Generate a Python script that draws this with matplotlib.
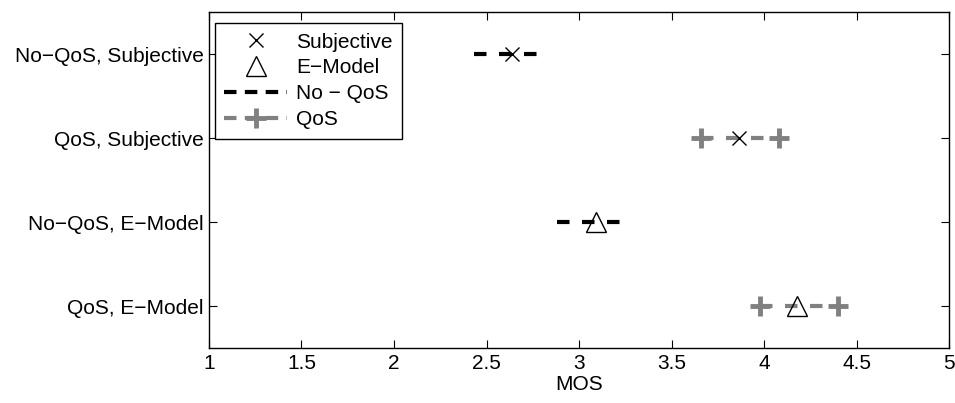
import matplotlib
matplotlib.use("Agg")
import matplotlib.pyplot as plt
from matplotlib.lines import Line2D

plt.rcParams['font.family'] = ['Liberation Sans', 'DejaVu Sans']

# rows from top to bottom
row_labels = ['No\u2212QoS, Subjective', 'QoS, Subjective', 'No\u2212QoS, E\u2212Model', 'QoS, E\u2212Model']
row_pos = [4, 3, 2, 1]
low = [2.43, 3.66, 2.88, 3.98]
high = [2.79, 4.08, 3.23, 4.40]
mean = [2.64, 3.865, 3.09, 4.18]
is_qos = [False, True, False, True]
is_subjective = [True, True, False, False]

gray = '#808080'

fig = plt.figure(figsize=(9.55, 4.03), dpi=100)
ax = fig.add_axes([0.2188, 0.1365, 0.775, 0.8335])

for i in range(len(row_labels)):
    y = row_pos[i]
    if is_qos[i]:
        ax.plot([low[i], high[i]], [y, y], color=gray, lw=3, dashes=(3, 3),
                marker='+', markersize=15, markeredgewidth=3.5)
    else:
        ax.plot([low[i], high[i]], [y, y], color='black', lw=3, dashes=(3, 3))
    if is_subjective[i]:
        ax.plot(mean[i], y, marker='x', color='black', markersize=10, markeredgewidth=1.0, linestyle='none')
    else:
        ax.plot(mean[i], y, marker='^', markerfacecolor='none', markeredgecolor='black',
                markersize=15, markeredgewidth=1.0, linestyle='none')

ax.set_xlim(1, 5)
ax.set_ylim(0.5, 4.5)
ax.set_xticks([1, 1.5, 2, 2.5, 3, 3.5, 4, 4.5, 5])
ax.set_xticklabels(['1', '1.5', '2', '2.5', '3', '3.5', '4', '4.5', '5'])
ax.set_yticks(row_pos)
ax.set_yticklabels(row_labels)
ax.tick_params(direction='in', top=True, right=True, labelsize=15, length=6, width=0.8, pad=4)
ax.set_xlabel('MOS', fontsize=15, labelpad=2)
for s in ax.spines.values():
    s.set_linewidth(1.0)

handles = [
    Line2D([], [], marker='x', color='black', linestyle='none', markersize=10, markeredgewidth=1.0),
    Line2D([], [], marker='^', markerfacecolor='none', markeredgecolor='black', linestyle='none',
           markersize=15, markeredgewidth=1.0),
    Line2D([], [], color='black', lw=3, dashes=(3, 2)),
    Line2D([], [], color=gray, lw=3, dashes=(3, 2), marker='+', markersize=15, markeredgewidth=3.5),
]
leg = ax.legend(handles, ['Subjective', 'E\u2212Model', 'No \u2212 QoS', 'QoS'],
                loc='upper left', bbox_to_anchor=(0.008, 0.967), fontsize=15, numpoints=1,
                fancybox=False, edgecolor='black', framealpha=1, borderpad=0.45,
                handlelength=3.0, handletextpad=0.45, labelspacing=0.33, borderaxespad=0)
leg.get_frame().set_linewidth(1.0)

fig.savefig('out.png', dpi=100)
